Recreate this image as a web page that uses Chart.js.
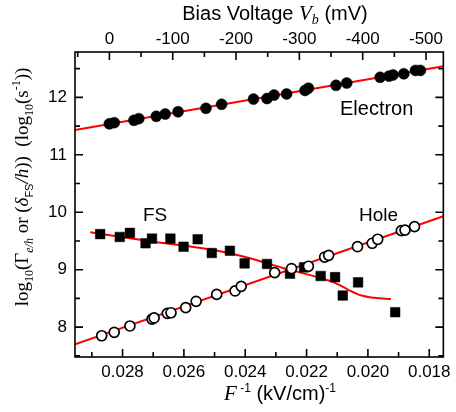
<!DOCTYPE html>
<html lang="en">
<head>
    <meta charset="UTF-8">
    <script src="https://cdn.jsdelivr.net/npm/chart.js"></script>
    <title>Rates vs inverse field</title>
    <style>
        body {
            margin: 0;
            padding: 0;
            background-color: #fff;
        }

        .box {
            width: 456px;
            height: 412px;
            position: relative;
        }
    </style>
</head>
<body>
    <div class="box">
        <canvas id="rateChart"></canvas>
    </div>

    <script>
        // valores
        const electronX = [0.02843, 0.02827, 0.02763, 0.02747, 0.02690, 0.02661, 0.02619, 0.02528, 0.02477, 0.02373, 0.02329, 0.02306, 0.02265, 0.02205, 0.02194, 0.02104, 0.02069, 0.01960, 0.01931, 0.01918, 0.01883, 0.01845, 0.01829];
        const electronY = [11.54, 11.56, 11.60, 11.63, 11.67, 11.71, 11.75, 11.81, 11.88, 11.97, 11.98, 12.04, 12.06, 12.12, 12.16, 12.21, 12.25, 12.35, 12.37, 12.39, 12.41, 12.47, 12.47];

        const holeX = [0.02868, 0.02827, 0.02776, 0.02704, 0.02697, 0.02654, 0.02642, 0.02594, 0.02560, 0.02493, 0.02433, 0.02413, 0.02304, 0.02249, 0.02194, 0.02141, 0.02128, 0.02034, 0.01986, 0.01968, 0.01891, 0.01879, 0.01848];
        const holeY = [7.85, 7.91, 8.02, 8.14, 8.16, 8.24, 8.25, 8.34, 8.45, 8.57, 8.63, 8.71, 8.95, 9.02, 9.06, 9.22, 9.25, 9.40, 9.46, 9.53, 9.68, 9.69, 9.75];

        const fsX = [0.02873, 0.02809, 0.02776, 0.02725, 0.02704, 0.02644, 0.02601, 0.02555, 0.02509, 0.02450, 0.02402, 0.02329, 0.02254, 0.02208, 0.02154, 0.02107, 0.02082, 0.02032, 0.01911];
        const fsY = [9.62, 9.57, 9.64, 9.46, 9.54, 9.54, 9.40, 9.53, 9.29, 9.33, 9.11, 9.10, 8.93, 9.04, 8.89, 8.87, 8.55, 8.78, 8.26];

        // curvas de ajuste
        const electronFitX = [0.02955, 0.01754];
        const electronFitY = [11.43, 12.54];
        const holeFitX = [0.02955, 0.01754];
        const holeFitY = [7.70, 9.93];
        const fsFitX = [0.02905, 0.02715, 0.02491, 0.02384, 0.02277, 0.02171, 0.02107, 0.02064, 0.02021, 0.01979, 0.01925];
        const fsFitY = [9.65, 9.50, 9.33, 9.20, 9.03, 8.88, 8.77, 8.65, 8.55, 8.51, 8.49];

        // eixos
        const xMin = 0.01754, xMax = 0.02955;
        const vMin = -527.4, vMax = 54.3;
        const yMin = 7.48, yMax = 12.79;

        const pts = (xs, ys) => xs.map((x, i) => ({ x: x, y: ys[i] }));

        const SANS = '"Liberation Sans", Arial, sans-serif';
        const SERIF = '"Liberation Serif", "Times New Roman", serif';

        // desenha texto com partes em fontes diferentes (sub/sobrescritos)
        function richText(ctx, segs, x, y) {
            let total = 0;
            segs.forEach(s => { ctx.font = s.f; s.w = ctx.measureText(s.t).width; total += s.w; });
            let cx = x - total / 2;
            segs.forEach(s => {
                ctx.font = s.f;
                ctx.fillText(s.t, cx, y + (s.dy || 0));
                cx += s.w;
            });
        }

        const framePlugin = {
            id: 'frame',
            afterDraw(chart) {
                const ctx = chart.ctx;
                const a = chart.chartArea;
                const sx = chart.scales.x, sx2 = chart.scales.x2, sy = chart.scales.y;
                ctx.save();
                ctx.strokeStyle = '#000';
                ctx.lineWidth = 1.6;
                ctx.strokeRect(a.left, a.top, a.right - a.left, a.bottom - a.top);

                ctx.beginPath();
                // eixo inferior
                for (let k = 18; k <= 29; k++) {
                    const v = k / 1000;
                    if (v < xMin || v > xMax) continue;
                    const len = k % 2 === 0 ? 8 : 5;
                    const p = sx.getPixelForValue(v);
                    ctx.moveTo(p, a.bottom);
                    ctx.lineTo(p, a.bottom - len);
                }
                // eixo superior (tensão)
                for (let v = -500; v <= 50; v += 50) {
                    const len = v % 100 === 0 ? 8 : 5;
                    const p = sx2.getPixelForValue(v);
                    ctx.moveTo(p, a.top);
                    ctx.lineTo(p, a.top + len);
                }
                // esquerda e direita
                for (let v = 7.5; v <= 12.5; v += 0.5) {
                    const len = Number.isInteger(v) ? 8 : 5;
                    const p = sy.getPixelForValue(v);
                    ctx.moveTo(a.left, p);
                    ctx.lineTo(a.left + len, p);
                    ctx.moveTo(a.right, p);
                    ctx.lineTo(a.right - len, p);
                }
                ctx.stroke();

                ctx.fillStyle = '#000';
                ctx.textBaseline = 'alphabetic';
                ctx.textAlign = 'left';

                // anotações
                ctx.font = '20px ' + SANS;
                ctx.fillText('Electron', 340, 115);
                ctx.font = '19px ' + SANS;
                ctx.fillText('FS', 143, 221);
                ctx.fillText('Hole', 359, 221);

                // título superior
                richText(ctx, [
                    { t: 'Bias Voltage ', f: '20px ' + SANS },
                    { t: 'V', f: 'italic 21px ' + SERIF },
                    { t: 'b', f: 'italic 14px ' + SERIF, dy: 4 },
                    { t: ' (mV)', f: '20px ' + SANS }
                ], 275, 20);

                // título inferior
                richText(ctx, [
                    { t: 'F', f: 'italic 21px ' + SERIF },
                    { t: ' -1', f: '12px ' + SANS, dy: -8 },
                    { t: ' (kV/cm)', f: '20px ' + SANS },
                    { t: '-1', f: '12px ' + SANS, dy: -8 }
                ], 280, 400);

                // título do eixo y
                ctx.translate(28, 187);
                ctx.rotate(-Math.PI / 2);
                richText(ctx, [
                    { t: 'log', f: '19px ' + SERIF },
                    { t: '10', f: '12px ' + SERIF, dy: 5 },
                    { t: '(Γ', f: '19px ' + SERIF },
                    { t: 'e/h', f: 'italic 12px ' + SERIF, dy: 5 },
                    { t: ' or (', f: '19px ' + SERIF },
                    { t: 'δ', f: 'italic 19px ' + SERIF },
                    { t: 'FS', f: '11px ' + SANS, dy: 5 },
                    { t: '/h', f: 'italic 19px ' + SERIF },
                    { t: '))  (log', f: '19px ' + SERIF },
                    { t: '10', f: '12px ' + SERIF, dy: 5 },
                    { t: '(s', f: '19px ' + SERIF },
                    { t: '-1', f: '12px ' + SERIF, dy: -8 },
                    { t: '))', f: '19px ' + SERIF }
                ], 0, 0);
                ctx.restore();
            }
        };

        const tickFont = { family: SANS, size: 17 };

        new Chart(document.getElementById('rateChart'), {
            type: 'scatter',
            data: {
                datasets: [
                    {
                        label: 'Hole',
                        data: pts(holeX, holeY),
                        pointStyle: 'circle',
                        pointRadius: 5,
                        borderWidth: 1.7,
                        borderColor: '#000',
                        backgroundColor: '#fff',
                        order: 1
                    },
                    {
                        label: 'Electron',
                        data: pts(electronX, electronY),
                        pointStyle: 'circle',
                        pointRadius: 5.5,
                        borderWidth: 0.5,
                        borderColor: '#000',
                        backgroundColor: '#000',
                        order: 1
                    },
                    {
                        label: 'FS',
                        data: pts(fsX, fsY),
                        pointStyle: 'rect',
                        pointRadius: 6.8,
                        borderWidth: 0.5,
                        borderColor: '#000',
                        backgroundColor: '#000',
                        order: 2
                    },
                    {
                        label: 'Electron fit',
                        data: pts(electronFitX, electronFitY),
                        showLine: true,
                        pointRadius: 0,
                        borderColor: '#ff0000',
                        borderWidth: 2,
                        order: 5
                    },
                    {
                        label: 'Hole fit',
                        data: pts(holeFitX, holeFitY),
                        showLine: true,
                        pointRadius: 0,
                        borderColor: '#ff0000',
                        borderWidth: 2,
                        order: 5
                    },
                    {
                        label: 'FS fit',
                        data: pts(fsFitX, fsFitY),
                        showLine: true,
                        pointRadius: 0,
                        borderColor: '#ff0000',
                        borderWidth: 2,
                        cubicInterpolationMode: 'monotone',
                        order: 5
                    }
                ]
            },
            options: {
                responsive: true,
                maintainAspectRatio: false,
                animation: false,
                layout: { padding: { left: 0, right: 6, top: 0, bottom: 0 } },
                plugins: {
                    legend: { display: false },
                    tooltip: { enabled: false }
                },
                scales: {
                    x: {
                        type: 'linear',
                        position: 'bottom',
                        reverse: true,
                        min: xMin,
                        max: xMax,
                        grid: { display: false, drawTicks: false },
                        border: { display: false },
                        ticks: {
                            stepSize: 0.002,
                            includeBounds: false,
                            autoSkip: false,
                            maxRotation: 0,
                            padding: 5,
                            color: '#000',
                            font: tickFont,
                            callback: v => v.toFixed(3)
                        },
                        afterFit: s => { s.height = 55; }
                    },
                    x2: {
                        type: 'linear',
                        position: 'top',
                        reverse: true,
                        min: vMin,
                        max: vMax,
                        grid: { display: false, drawTicks: false },
                        border: { display: false },
                        ticks: {
                            stepSize: 100,
                            includeBounds: false,
                            autoSkip: false,
                            maxRotation: 0,
                            padding: 2,
                            color: '#000',
                            font: tickFont,
                            callback: v => String(Math.round(v))
                        },
                        afterFit: s => { s.height = 52; }
                    },
                    y: {
                        type: 'linear',
                        min: yMin,
                        max: yMax,
                        grid: { display: false, drawTicks: false },
                        border: { display: false },
                        ticks: {
                            stepSize: 1,
                            includeBounds: false,
                            padding: 8,
                            color: '#000',
                            font: tickFont
                        },
                        afterFit: s => { s.width = 75; }
                    }
                }
            },
            plugins: [framePlugin]
        });
    </script>
</body>
</html>
